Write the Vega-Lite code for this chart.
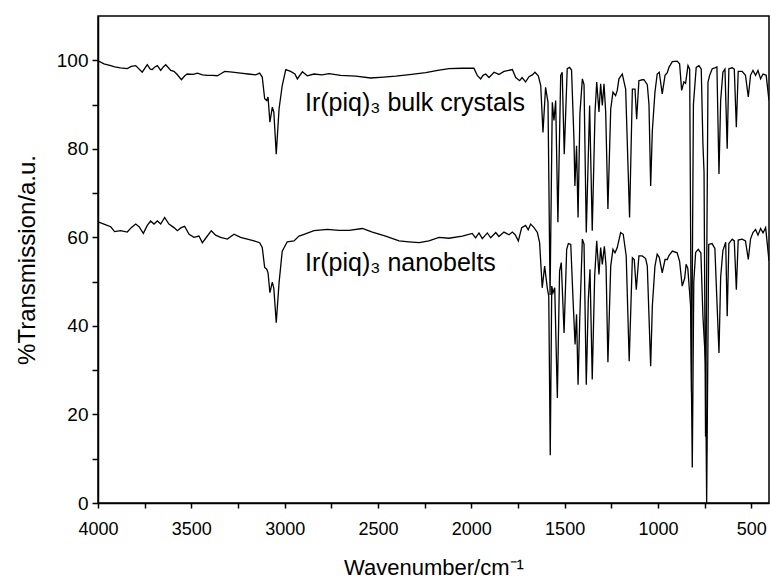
{
  "$schema": "https://vega.github.io/schema/vega-lite/v6.json",
  "width": 671,
  "height": 487,
  "autosize": {"type": "none"},
  "padding": {"left": 98, "top": 16, "right": 2, "bottom": 82},
  "background": "white",
  "config": {
    "view": {"stroke": "black", "strokeWidth": 1.5},
    "font": "Liberation Sans",
    "axis": {
      "grid": false,
      "domainColor": "black",
      "domainWidth": 1.5,
      "tickColor": "black",
      "tickWidth": 1.5,
      "labelColor": "black",
      "titleColor": "black",
      "labelFont": "Liberation Sans",
      "titleFont": "Liberation Sans",
      "labelFontSize": 18,
      "titleFontSize": 22,
      "titleFontWeight": "normal"
    }
  },
  "datasets": {
    "spectra": [
      {"s":"bulk","w":4000,"t":99.9},{"s":"bulk","w":3968,"t":99.2},{"s":"bulk","w":3932,"t":98.8},{"s":"bulk","w":3911,"t":98.5},{"s":"bulk","w":3880,"t":98.3},{"s":"bulk","w":3843,"t":98.1},{"s":"bulk","w":3822,"t":98.6},{"s":"bulk","w":3798,"t":98.8},{"s":"bulk","w":3763,"t":97.3},{"s":"bulk","w":3736,"t":99.0},{"s":"bulk","w":3720,"t":98.0},{"s":"bulk","w":3709,"t":97.9},{"s":"bulk","w":3695,"t":98.5},{"s":"bulk","w":3682,"t":98.8},{"s":"bulk","w":3664,"t":97.7},{"s":"bulk","w":3650,"t":98.5},{"s":"bulk","w":3637,"t":99.0},{"s":"bulk","w":3610,"t":97.7},{"s":"bulk","w":3593,"t":97.5},{"s":"bulk","w":3578,"t":96.9},{"s":"bulk","w":3553,"t":95.6},{"s":"bulk","w":3535,"t":96.5},{"s":"bulk","w":3522,"t":96.9},{"s":"bulk","w":3490,"t":96.8},{"s":"bulk","w":3468,"t":97.1},{"s":"bulk","w":3440,"t":96.7},{"s":"bulk","w":3414,"t":96.6},{"s":"bulk","w":3385,"t":96.6},{"s":"bulk","w":3361,"t":96.5},{"s":"bulk","w":3340,"t":97.0},{"s":"bulk","w":3321,"t":97.5},{"s":"bulk","w":3280,"t":97.3},{"s":"bulk","w":3236,"t":97.1},{"s":"bulk","w":3195,"t":96.9},{"s":"bulk","w":3155,"t":96.7},{"s":"bulk","w":3134,"t":97.1},{"s":"bulk","w":3120,"t":96.2},{"s":"bulk","w":3107,"t":91.3},{"s":"bulk","w":3096,"t":90.9},{"s":"bulk","w":3089,"t":91.7},{"s":"bulk","w":3079,"t":86.0},{"s":"bulk","w":3066,"t":89.4},{"s":"bulk","w":3058,"t":88.3},{"s":"bulk","w":3045,"t":78.8},{"s":"bulk","w":3030,"t":89.0},{"s":"bulk","w":3013,"t":94.3},{"s":"bulk","w":2994,"t":97.9},{"s":"bulk","w":2968,"t":97.5},{"s":"bulk","w":2945,"t":96.9},{"s":"bulk","w":2932,"t":95.8},{"s":"bulk","w":2905,"t":97.4},{"s":"bulk","w":2879,"t":96.5},{"s":"bulk","w":2843,"t":96.9},{"s":"bulk","w":2800,"t":96.7},{"s":"bulk","w":2762,"t":97.0},{"s":"bulk","w":2700,"t":96.6},{"s":"bulk","w":2619,"t":96.4},{"s":"bulk","w":2539,"t":96.0},{"s":"bulk","w":2470,"t":96.2},{"s":"bulk","w":2405,"t":96.4},{"s":"bulk","w":2320,"t":96.8},{"s":"bulk","w":2244,"t":97.2},{"s":"bulk","w":2180,"t":97.7},{"s":"bulk","w":2120,"t":98.1},{"s":"bulk","w":2050,"t":98.2},{"s":"bulk","w":1986,"t":98.2},{"s":"bulk","w":1968,"t":96.6},{"s":"bulk","w":1950,"t":95.8},{"s":"bulk","w":1937,"t":96.6},{"s":"bulk","w":1923,"t":96.9},{"s":"bulk","w":1905,"t":96.1},{"s":"bulk","w":1878,"t":97.3},{"s":"bulk","w":1852,"t":96.8},{"s":"bulk","w":1825,"t":97.5},{"s":"bulk","w":1780,"t":97.9},{"s":"bulk","w":1762,"t":96.1},{"s":"bulk","w":1741,"t":95.4},{"s":"bulk","w":1728,"t":96.1},{"s":"bulk","w":1709,"t":95.1},{"s":"bulk","w":1691,"t":96.3},{"s":"bulk","w":1673,"t":96.7},{"s":"bulk","w":1659,"t":97.3},{"s":"bulk","w":1641,"t":96.5},{"s":"bulk","w":1628,"t":94.3},{"s":"bulk","w":1616,"t":83.7},{"s":"bulk","w":1602,"t":93.9},{"s":"bulk","w":1589,"t":90.5},{"s":"bulk","w":1578,"t":47.0},{"s":"bulk","w":1566,"t":90.5},{"s":"bulk","w":1557,"t":86.4},{"s":"bulk","w":1548,"t":90.9},{"s":"bulk","w":1536,"t":63.4},{"s":"bulk","w":1521,"t":96.6},{"s":"bulk","w":1513,"t":97.3},{"s":"bulk","w":1502,"t":78.8},{"s":"bulk","w":1486,"t":98.1},{"s":"bulk","w":1473,"t":98.4},{"s":"bulk","w":1463,"t":97.8},{"s":"bulk","w":1450,"t":82.2},{"s":"bulk","w":1445,"t":71.6},{"s":"bulk","w":1436,"t":80.7},{"s":"bulk","w":1428,"t":64.5},{"s":"bulk","w":1418,"t":88.0},{"s":"bulk","w":1405,"t":95.8},{"s":"bulk","w":1396,"t":94.5},{"s":"bulk","w":1384,"t":61.1},{"s":"bulk","w":1366,"t":89.8},{"s":"bulk","w":1352,"t":61.5},{"s":"bulk","w":1337,"t":88.3},{"s":"bulk","w":1328,"t":95.1},{"s":"bulk","w":1316,"t":88.3},{"s":"bulk","w":1307,"t":94.7},{"s":"bulk","w":1298,"t":89.8},{"s":"bulk","w":1289,"t":94.7},{"s":"bulk","w":1280,"t":88.3},{"s":"bulk","w":1268,"t":66.4},{"s":"bulk","w":1253,"t":89.0},{"s":"bulk","w":1241,"t":92.8},{"s":"bulk","w":1227,"t":92.0},{"s":"bulk","w":1218,"t":93.2},{"s":"bulk","w":1209,"t":95.8},{"s":"bulk","w":1191,"t":96.9},{"s":"bulk","w":1173,"t":93.5},{"s":"bulk","w":1152,"t":64.5},{"s":"bulk","w":1137,"t":93.5},{"s":"bulk","w":1123,"t":93.5},{"s":"bulk","w":1114,"t":86.7},{"s":"bulk","w":1102,"t":95.4},{"s":"bulk","w":1084,"t":95.6},{"s":"bulk","w":1075,"t":95.6},{"s":"bulk","w":1057,"t":94.5},{"s":"bulk","w":1048,"t":90.0},{"s":"bulk","w":1039,"t":71.6},{"s":"bulk","w":1030,"t":84.1},{"s":"bulk","w":1016,"t":92.8},{"s":"bulk","w":1004,"t":96.9},{"s":"bulk","w":993,"t":97.3},{"s":"bulk","w":977,"t":92.4},{"s":"bulk","w":962,"t":96.6},{"s":"bulk","w":950,"t":97.2},{"s":"bulk","w":941,"t":98.4},{"s":"bulk","w":923,"t":99.7},{"s":"bulk","w":897,"t":99.8},{"s":"bulk","w":884,"t":99.2},{"s":"bulk","w":873,"t":93.2},{"s":"bulk","w":861,"t":95.1},{"s":"bulk","w":852,"t":94.8},{"s":"bulk","w":839,"t":98.8},{"s":"bulk","w":830,"t":98.0},{"s":"bulk","w":820,"t":25.0},{"s":"bulk","w":810,"t":90.0},{"s":"bulk","w":795,"t":98.4},{"s":"bulk","w":780,"t":98.8},{"s":"bulk","w":768,"t":98.0},{"s":"bulk","w":759,"t":81.1},{"s":"bulk","w":753,"t":74.7},{"s":"bulk","w":745,"t":15.0},{"s":"bulk","w":732,"t":95.0},{"s":"bulk","w":723,"t":96.6},{"s":"bulk","w":709,"t":98.1},{"s":"bulk","w":695,"t":98.3},{"s":"bulk","w":684,"t":98.5},{"s":"bulk","w":673,"t":74.3},{"s":"bulk","w":664,"t":90.9},{"s":"bulk","w":652,"t":97.3},{"s":"bulk","w":641,"t":98.0},{"s":"bulk","w":629,"t":80.0},{"s":"bulk","w":620,"t":98.1},{"s":"bulk","w":602,"t":98.3},{"s":"bulk","w":591,"t":98.0},{"s":"bulk","w":580,"t":84.9},{"s":"bulk","w":570,"t":97.5},{"s":"bulk","w":549,"t":97.5},{"s":"bulk","w":531,"t":96.6},{"s":"bulk","w":516,"t":91.7},{"s":"bulk","w":504,"t":96.6},{"s":"bulk","w":491,"t":97.7},{"s":"bulk","w":477,"t":96.6},{"s":"bulk","w":464,"t":97.7},{"s":"bulk","w":450,"t":95.8},{"s":"bulk","w":437,"t":96.9},{"s":"bulk","w":420,"t":96.6},{"s":"bulk","w":405,"t":90.9},
      {"s":"nano","w":4000,"t":63.5},{"s":"nano","w":3968,"t":63.0},{"s":"nano","w":3932,"t":62.4},{"s":"nano","w":3911,"t":61.3},{"s":"nano","w":3879,"t":61.5},{"s":"nano","w":3843,"t":61.2},{"s":"nano","w":3822,"t":62.2},{"s":"nano","w":3798,"t":63.0},{"s":"nano","w":3780,"t":62.4},{"s":"nano","w":3757,"t":60.9},{"s":"nano","w":3736,"t":62.7},{"s":"nano","w":3718,"t":63.7},{"s":"nano","w":3700,"t":63.0},{"s":"nano","w":3682,"t":63.7},{"s":"nano","w":3664,"t":63.0},{"s":"nano","w":3643,"t":64.5},{"s":"nano","w":3620,"t":63.0},{"s":"nano","w":3593,"t":62.2},{"s":"nano","w":3575,"t":61.5},{"s":"nano","w":3554,"t":62.2},{"s":"nano","w":3536,"t":62.5},{"s":"nano","w":3512,"t":60.7},{"s":"nano","w":3486,"t":60.0},{"s":"nano","w":3459,"t":60.3},{"s":"nano","w":3441,"t":58.8},{"s":"nano","w":3423,"t":59.8},{"s":"nano","w":3393,"t":61.5},{"s":"nano","w":3370,"t":60.5},{"s":"nano","w":3343,"t":60.0},{"s":"nano","w":3307,"t":59.6},{"s":"nano","w":3271,"t":60.7},{"s":"nano","w":3236,"t":60.0},{"s":"nano","w":3200,"t":59.6},{"s":"nano","w":3164,"t":59.2},{"s":"nano","w":3134,"t":58.8},{"s":"nano","w":3120,"t":57.7},{"s":"nano","w":3107,"t":53.2},{"s":"nano","w":3096,"t":52.8},{"s":"nano","w":3089,"t":52.0},{"s":"nano","w":3079,"t":47.5},{"s":"nano","w":3066,"t":49.9},{"s":"nano","w":3058,"t":48.5},{"s":"nano","w":3045,"t":40.7},{"s":"nano","w":3030,"t":49.7},{"s":"nano","w":3013,"t":56.9},{"s":"nano","w":2986,"t":59.0},{"s":"nano","w":2950,"t":59.2},{"s":"nano","w":2923,"t":60.3},{"s":"nano","w":2896,"t":60.7},{"s":"nano","w":2843,"t":61.5},{"s":"nano","w":2772,"t":61.8},{"s":"nano","w":2709,"t":61.6},{"s":"nano","w":2655,"t":61.6},{"s":"nano","w":2584,"t":62.0},{"s":"nano","w":2530,"t":61.2},{"s":"nano","w":2459,"t":60.3},{"s":"nano","w":2387,"t":59.2},{"s":"nano","w":2334,"t":59.0},{"s":"nano","w":2280,"t":58.8},{"s":"nano","w":2227,"t":59.2},{"s":"nano","w":2173,"t":60.0},{"s":"nano","w":2120,"t":59.8},{"s":"nano","w":2048,"t":60.3},{"s":"nano","w":1995,"t":60.9},{"s":"nano","w":1977,"t":59.9},{"s":"nano","w":1959,"t":61.0},{"s":"nano","w":1941,"t":59.7},{"s":"nano","w":1914,"t":61.0},{"s":"nano","w":1896,"t":59.9},{"s":"nano","w":1869,"t":61.1},{"s":"nano","w":1852,"t":60.2},{"s":"nano","w":1825,"t":61.2},{"s":"nano","w":1798,"t":60.6},{"s":"nano","w":1780,"t":61.2},{"s":"nano","w":1765,"t":60.6},{"s":"nano","w":1748,"t":59.2},{"s":"nano","w":1730,"t":62.2},{"s":"nano","w":1709,"t":62.7},{"s":"nano","w":1695,"t":61.7},{"s":"nano","w":1682,"t":63.0},{"s":"nano","w":1664,"t":62.2},{"s":"nano","w":1646,"t":61.1},{"s":"nano","w":1634,"t":58.8},{"s":"nano","w":1620,"t":48.6},{"s":"nano","w":1607,"t":53.5},{"s":"nano","w":1593,"t":48.6},{"s":"nano","w":1585,"t":46.7},{"s":"nano","w":1577,"t":10.8},{"s":"nano","w":1569,"t":49.0},{"s":"nano","w":1562,"t":47.5},{"s":"nano","w":1553,"t":48.6},{"s":"nano","w":1539,"t":23.7},{"s":"nano","w":1527,"t":52.4},{"s":"nano","w":1518,"t":54.3},{"s":"nano","w":1503,"t":38.4},{"s":"nano","w":1489,"t":57.3},{"s":"nano","w":1480,"t":58.6},{"s":"nano","w":1467,"t":58.4},{"s":"nano","w":1455,"t":46.0},{"s":"nano","w":1444,"t":35.8},{"s":"nano","w":1436,"t":42.6},{"s":"nano","w":1428,"t":26.7},{"s":"nano","w":1419,"t":41.4},{"s":"nano","w":1405,"t":59.6},{"s":"nano","w":1396,"t":58.5},{"s":"nano","w":1384,"t":26.7},{"s":"nano","w":1373,"t":46.0},{"s":"nano","w":1364,"t":52.8},{"s":"nano","w":1352,"t":27.9},{"s":"nano","w":1339,"t":51.3},{"s":"nano","w":1328,"t":59.2},{"s":"nano","w":1316,"t":51.6},{"s":"nano","w":1307,"t":57.7},{"s":"nano","w":1298,"t":53.9},{"s":"nano","w":1287,"t":58.0},{"s":"nano","w":1278,"t":53.5},{"s":"nano","w":1268,"t":31.8},{"s":"nano","w":1253,"t":53.5},{"s":"nano","w":1241,"t":57.3},{"s":"nano","w":1230,"t":56.5},{"s":"nano","w":1218,"t":57.7},{"s":"nano","w":1200,"t":61.1},{"s":"nano","w":1186,"t":60.7},{"s":"nano","w":1170,"t":55.8},{"s":"nano","w":1154,"t":32.0},{"s":"nano","w":1137,"t":55.4},{"s":"nano","w":1127,"t":55.0},{"s":"nano","w":1116,"t":48.2},{"s":"nano","w":1102,"t":55.8},{"s":"nano","w":1084,"t":55.8},{"s":"nano","w":1066,"t":55.2},{"s":"nano","w":1057,"t":53.5},{"s":"nano","w":1039,"t":30.9},{"s":"nano","w":1030,"t":44.5},{"s":"nano","w":1016,"t":53.5},{"s":"nano","w":1004,"t":56.2},{"s":"nano","w":993,"t":55.5},{"s":"nano","w":977,"t":52.0},{"s":"nano","w":962,"t":55.0},{"s":"nano","w":950,"t":55.0},{"s":"nano","w":941,"t":55.9},{"s":"nano","w":923,"t":56.9},{"s":"nano","w":897,"t":56.5},{"s":"nano","w":884,"t":54.6},{"s":"nano","w":870,"t":49.0},{"s":"nano","w":857,"t":50.7},{"s":"nano","w":849,"t":53.9},{"s":"nano","w":840,"t":53.0},{"s":"nano","w":825,"t":44.5},{"s":"nano","w":816,"t":8.0},{"s":"nano","w":808,"t":50.0},{"s":"nano","w":798,"t":56.6},{"s":"nano","w":784,"t":57.3},{"s":"nano","w":770,"t":56.5},{"s":"nano","w":759,"t":42.2},{"s":"nano","w":752,"t":36.9},{"s":"nano","w":745,"t":31.7},{"s":"nano","w":739,"t":0.0},{"s":"nano","w":728,"t":58.4},{"s":"nano","w":710,"t":58.6},{"s":"nano","w":695,"t":57.5},{"s":"nano","w":673,"t":33.9},{"s":"nano","w":664,"t":51.0},{"s":"nano","w":652,"t":57.0},{"s":"nano","w":637,"t":58.9},{"s":"nano","w":629,"t":42.2},{"s":"nano","w":620,"t":58.6},{"s":"nano","w":602,"t":59.6},{"s":"nano","w":591,"t":59.2},{"s":"nano","w":580,"t":48.2},{"s":"nano","w":570,"t":59.4},{"s":"nano","w":549,"t":59.6},{"s":"nano","w":531,"t":59.2},{"s":"nano","w":516,"t":55.0},{"s":"nano","w":504,"t":59.6},{"s":"nano","w":491,"t":61.1},{"s":"nano","w":477,"t":61.8},{"s":"nano","w":464,"t":60.5},{"s":"nano","w":450,"t":62.0},{"s":"nano","w":437,"t":61.0},{"s":"nano","w":423,"t":62.2},{"s":"nano","w":405,"t":54.7}
    ],
    "labels": [
      {"label": "Ir(piq)₃ bulk crystals", "w": 2891, "t": 88.6},
      {"label": "Ir(piq)₃ nanobelts", "w": 2891, "t": 52.4}
    ]
  },
  "layer": [
    {
      "data": {"name": "spectra"},
      "mark": {"type": "line", "color": "black", "strokeWidth": 1.3, "clip": true},
      "encoding": {
        "x": {
          "field": "w",
          "type": "quantitative",
          "scale": {"domain": [4000, 405], "nice": false, "zero": false},
          "axis": {
            "title": "Wavenumber/cm⁻¹",
            "values": [4000, 3750, 3500, 3250, 3000, 2750, 2500, 2250, 2000, 1750, 1500, 1250, 1000, 750, 500],
            "labelExpr": "datum.value % 500 == 0 ? datum.value : ''",
            "tickSize": 5,
            "labelPadding": 12,
            "titlePadding": 19,
            "labelFlush": false,
            "labelOverlap": false
          }
        },
        "y": {
          "field": "t",
          "type": "quantitative",
          "scale": {"domain": [0, 110], "nice": false},
          "axis": {
            "title": "%Transmission/a.u.",
            "titleFontSize": 24,
            "labelFontSize": 19,
            "values": [0, 10, 20, 30, 40, 50, 60, 70, 80, 90, 100],
            "labelExpr": "datum.value % 20 == 0 ? datum.value : ''",
            "tickSize": 6,
            "labelPadding": 4,
            "titlePadding": 17,
            "labelFlush": false,
            "labelOverlap": false
          }
        },
        "detail": {"field": "s", "type": "nominal"}
      }
    },
    {
      "data": {"name": "labels"},
      "mark": {"type": "text", "align": "left", "baseline": "alphabetic", "fontSize": 25, "font": "Liberation Sans", "color": "black"},
      "encoding": {
        "x": {"field": "w", "type": "quantitative"},
        "y": {"field": "t", "type": "quantitative"},
        "text": {"field": "label", "type": "nominal"}
      }
    }
  ]
}
